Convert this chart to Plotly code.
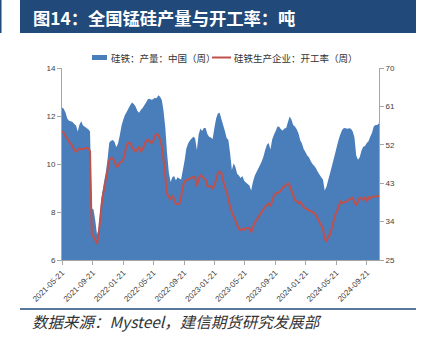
import pandas as pd
import plotly.graph_objects as go

# ---------------- data ----------------
start_date = "2021-05-21"
production = [
    12.35, 12.30, 12.15, 11.90, 11.80, 11.78, 11.75, 11.67, 11.60, 11.35,
    11.65, 11.78, 11.60, 11.55, 11.50, 11.45, 11.35, 8.15, 8.10, 7.65,
    7.05, 7.30, 8.20, 8.80, 9.25, 9.65, 10.20, 10.90, 10.97, 11.00,
    10.92, 10.70, 10.85, 11.20, 11.60, 11.85, 12.05, 12.18, 12.32, 12.46,
    12.56, 12.50, 12.40, 12.22, 12.14, 12.25, 12.33, 12.45, 12.56, 12.70,
    12.72, 12.68, 12.70, 12.76, 12.74, 12.86, 12.80, 12.67, 12.20, 11.50,
    10.45, 9.65, 9.25, 9.45, 9.50, 9.32, 9.45, 9.40, 9.35, 9.75,
    10.15, 10.65, 10.85, 10.98, 11.06, 11.14, 11.07, 10.58, 11.22, 11.48,
    11.37, 11.50, 11.50, 11.25, 11.14, 11.10, 11.04, 11.50, 11.90, 12.10,
    12.14, 11.88, 11.62, 11.38, 11.08, 11.00, 10.44, 9.75, 10.03, 9.87,
    9.59, 9.52, 9.42, 9.50, 9.30, 9.23, 9.17, 9.10, 8.90, 9.25,
    9.50, 9.66, 9.80, 9.95, 10.10, 10.30, 10.58, 10.80, 10.87, 10.60,
    11.02, 11.22, 11.38, 11.56, 11.55, 11.45, 11.40, 11.48, 11.50, 11.75,
    11.98, 11.85, 11.62, 11.56, 11.45, 11.28, 11.00, 10.85, 10.62, 10.50,
    10.35, 10.28, 10.12, 10.00, 9.93, 9.82, 9.68, 9.56, 9.45, 9.35,
    8.90, 9.05, 9.33, 9.60, 9.89, 10.17, 10.46, 10.75, 11.03, 11.25,
    11.43, 11.50, 11.49, 11.47, 11.49, 11.47, 11.35, 11.10, 10.35, 10.18,
    10.28, 10.56, 10.72, 10.75, 10.87, 10.95, 11.14, 11.30, 11.56, 11.63,
    11.63, 11.70,
]
operating_rate = [
    55.1, 54.8, 54.0, 53.6, 52.7, 52.3, 51.6, 50.8, 50.4, 50.9,
    51.2, 50.9, 51.0, 51.1, 51.3, 51.1, 50.5, 31.0, 30.5, 29.7,
    28.8, 31.5, 35.8, 39.5, 41.5, 43.5, 46.0, 48.4, 48.9, 48.8,
    48.1, 46.9, 47.0, 47.9, 48.0, 48.5, 50.5, 52.1, 52.5, 52.3,
    51.4, 50.8, 50.4, 51.0, 51.6, 50.5, 50.9, 52.0, 52.9, 53.2,
    52.9, 52.4, 52.8, 54.1, 54.5, 54.3, 53.2, 51.6, 48.3, 44.3,
    40.5, 39.8, 39.1, 40.2, 38.9, 38.1, 38.1, 38.1, 39.8, 42.2,
    43.4, 43.7, 43.9, 44.1, 44.2, 44.5, 44.4, 42.2, 44.2, 44.9,
    44.6, 44.1, 43.9, 42.4, 42.2, 42.3, 41.8, 42.5, 43.8, 45.4,
    45.7, 45.4, 43.7, 42.0, 41.1, 39.1, 37.5, 36.2, 35.1, 34.3,
    33.4, 32.3, 32.0, 32.3, 32.1, 32.5, 32.5, 32.4, 31.5, 32.5,
    33.8, 34.3, 35.0, 35.5, 36.3, 36.9, 37.5, 37.9, 38.2, 37.6,
    38.9, 40.0, 40.6, 40.8, 40.9, 41.3, 42.0, 42.2, 42.5, 43.0,
    42.4, 41.2, 39.9, 39.1, 38.7, 38.3, 38.6, 37.9, 37.4, 37.1,
    36.9, 36.7, 36.5, 36.2, 36.0, 35.5, 34.7, 33.9, 33.3, 32.3,
    30.0, 29.3, 30.5, 30.9, 32.4, 34.4, 35.6, 36.4, 37.7, 38.7,
    38.4, 38.5, 38.7, 38.8, 39.2, 39.4, 39.6, 38.5, 38.0, 38.6,
    39.6, 39.4, 39.1, 39.8, 38.7, 39.7, 39.4, 39.8, 39.8, 39.8,
    40.0, 40.0,
]
x_tick_labels = ["2021-05-21", "2021-09-21", "2022-01-21", "2022-05-21",
                 "2022-09-21", "2023-01-21", "2023-05-21", "2023-09-21",
                 "2024-01-21", "2024-05-21", "2024-09-21"]
left_ticks = [6, 8, 10, 12, 14]
right_ticks = [25, 34, 43, 52, 61, 70]
series_names = ["硅铁：产量：中国（周）", "硅铁生产企业：开工率（周）"]
title_text = "图14：全国锰硅产量与开工率：吨"
source_text = "数据来源：Mysteel，建信期货研究发展部"

dates = pd.date_range(start=start_date, periods=len(production), freq="7D")

# ---------------- layout helpers ----------------
W, H = 430, 337
L, R, T, B = 62, 379, 68, 260


def px(x):
    return (x - L) / (R - L)


def py(y):
    return (B - y) / (B - T)


BLUE = "#4A7EBB"
RED = "#C0504D"
NAVY = "#214A7B"
AX = "#A6A6A6"
TXT = "#404040"
CJK = "Noto Sans CJK SC"

fig = go.Figure()
fig.add_trace(go.Scatter(
    x=dates, y=production, name=series_names[0], mode="none",
    fill="tozeroy", fillcolor=BLUE, showlegend=False, yaxis="y",
))
fig.add_trace(go.Scatter(
    x=dates, y=operating_rate, name=series_names[1], mode="lines",
    line=dict(color=RED, width=2), showlegend=False, yaxis="y2",
))

fig.update_layout(
    width=W, height=H,
    margin=dict(l=L, r=W - R, t=T, b=H - B),
    paper_bgcolor="white", plot_bgcolor="white",
    font=dict(family=CJK, color=TXT, size=8),
    xaxis=dict(
        type="date", range=[dates[0], dates[-1]],
        tickvals=pd.to_datetime(x_tick_labels), ticktext=x_tick_labels,
        tickangle=-45, tickfont=dict(size=8, family="Liberation Sans", color=TXT),
        ticks="outside", ticklen=4, tickcolor=AX,
        showline=True, linecolor=AX, linewidth=1, showgrid=False, zeroline=False,
    ),
    yaxis=dict(
        range=[6, 14], tickvals=left_ticks,
        tickfont=dict(size=8, family="Liberation Sans", color=TXT),
        ticks="outside", ticklen=4, tickcolor=AX,
        showline=True, linecolor=AX, linewidth=1, showgrid=False, zeroline=False,
    ),
    yaxis2=dict(
        range=[25, 70], tickvals=right_ticks, overlaying="y", side="right",
        tickfont=dict(size=8, family="Liberation Sans", color=TXT),
        ticks="outside", ticklen=4, tickcolor=AX,
        showline=True, linecolor=AX, linewidth=1, showgrid=False, zeroline=False,
    ),
)

shapes = [
    # title bar
    dict(type="rect", xref="paper", yref="paper", x0=px(20), x1=px(416),
         y0=py(33), y1=py(0), fillcolor=NAVY, line=dict(width=0), layer="below"),
    dict(type="rect", xref="paper", yref="paper", x0=px(0), x1=px(1.5),
         y0=py(33), y1=py(0), fillcolor=NAVY, line=dict(width=0), layer="below"),
    # footer line
    dict(type="line", xref="paper", yref="paper", x0=px(20), x1=px(416),
         y0=py(309), y1=py(309), line=dict(color=NAVY, width=1.5)),
    # legend swatches
    dict(type="rect", xref="paper", yref="paper", x0=px(92), x1=px(107),
         y0=py(60), y1=py(55), fillcolor=BLUE, line=dict(width=0)),
    dict(type="line", xref="paper", yref="paper", x0=px(212), x1=px(231),
         y0=py(57.5), y1=py(57.5), line=dict(color=RED, width=2)),
]
annotations = [
    dict(text=title_text, x=px(31), y=py(17), xref="paper", yref="paper",
         xanchor="left", yanchor="middle", showarrow=False,
         font=dict(family=CJK, size=17.3, color="white", weight="bold")),
    dict(text=series_names[0], x=px(109), y=py(57.5), xref="paper", yref="paper",
         xanchor="left", yanchor="middle", showarrow=False,
         font=dict(family=CJK, size=9.5, color="#333333")),
    dict(text=series_names[1], x=px(232), y=py(57.5), xref="paper", yref="paper",
         xanchor="left", yanchor="middle", showarrow=False,
         font=dict(family=CJK, size=9.5, color="#333333")),
    dict(text=source_text, x=px(30), y=py(321), xref="paper", yref="paper",
         xanchor="left", yanchor="middle", showarrow=False,
         font=dict(family=CJK, size=15.5, color="#333333", style="italic")),
]
fig.update_layout(shapes=shapes, annotations=annotations)

fig.write_html("out.html")
